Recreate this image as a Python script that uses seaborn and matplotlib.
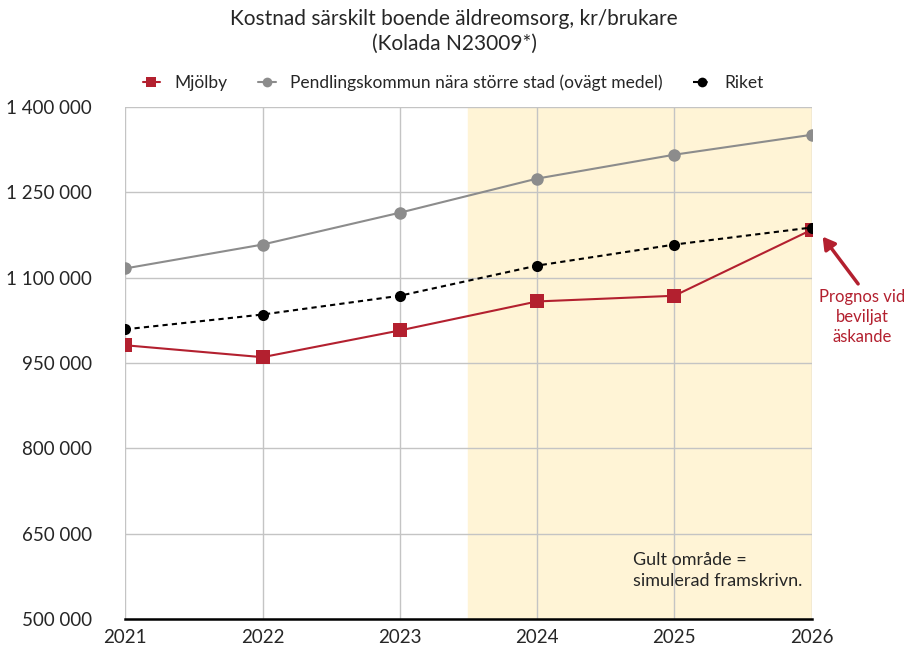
import pandas as pd
import matplotlib.pyplot as plt
import seaborn as sns
from matplotlib.ticker import FuncFormatter

years = [2021, 2022, 2023, 2024, 2025, 2026]
mjolby = [981000, 960000, 1007000, 1058000, 1068000, 1184000]
pendling = [1116000, 1158000, 1214000, 1274000, 1316000, 1351000]
riket = [1009000, 1035000, 1068000, 1121000, 1158000, 1188000]
series_names = ["Mjölby", "Pendlingskommun nära större stad (ovägt medel)", "Riket"]
y_ticks = [500000, 650000, 800000, 950000, 1100000, 1250000, 1400000]

df = pd.DataFrame({
    "year": years * 3,
    "value": mjolby + pendling + riket,
    "series": [s for s in series_names for _ in years],
})

sns.set_style("white")
plt.rcParams["font.family"] = ["Lato", "DejaVu Sans"]

red = "#b3202f"
fig = plt.figure(figsize=(9.14, 6.48), dpi=100)
ax = fig.add_axes([0.137, 0.045, 0.751, 0.79])

ax.axvspan(2023.5, 2026, color="#fff4d6", zorder=0)

sns.lineplot(
    data=df, x="year", y="value", hue="series", style="series",
    hue_order=series_names, style_order=series_names,
    palette=[red, "#8c8c8c", "black"],
    markers={"Mjölby": "s", series_names[1]: "o", "Riket": "o"},
    dashes={"Mjölby": "", series_names[1]: "", "Riket": (2.5, 2)},
    linewidth=1.5, markeredgewidth=0, ax=ax, zorder=3,
)
for line, ms in zip(ax.lines, [10, 9, 8]):
    line.set_markersize(ms)

ax.set_xlim(2021, 2026)
ax.set_ylim(500000, 1400000)
ax.set_xticks(years)
ax.set_yticks(y_ticks)
ax.yaxis.set_major_formatter(FuncFormatter(lambda v, p: f"{int(v):,}".replace(",", " ")))
ax.grid(True, color="#c4c4c4", linewidth=1)
ax.set_axisbelow(True)
for side in ["top", "right", "left"]:
    ax.spines[side].set_visible(False)
ax.spines["bottom"].set_color("black")
ax.spines["bottom"].set_linewidth(1.8)
ax.tick_params(axis="both", length=0, labelsize=13.5, pad=7)
ax.tick_params(axis="y", pad=24)
ax.set_xlabel("")
ax.set_ylabel("")

handles, labels = ax.get_legend_handles_labels()
for h in handles:
    h.set_markersize(7)
ax.legend(handles, labels, loc="lower center", bbox_to_anchor=(0.478, 1.0),
          ncol=3, frameon=False, fontsize=12.5, handlelength=1.0,
          columnspacing=1.8, handletextpad=0.8, borderaxespad=0.5)

fig.text(0.497, 0.951, "Kostnad särskilt boende äldreomsorg, kr/brukare\n(Kolada N23009*)",
         ha="center", va="center", fontsize=15, linespacing=1.3)

ax.text(2024.7, 585000, "Gult område =\nsimulerad framskrivn.", ha="left",
        va="center", fontsize=13, linespacing=1.45)

ax.annotate("Prognos vid\nbeviljat\näskande", xy=(2026.08, 1172000),
            xytext=(2026.37, 1030000), ha="center", va="center", color=red,
            fontsize=12, linespacing=1.3, annotation_clip=False,
            arrowprops=dict(arrowstyle="-|>,head_width=0.35,head_length=0.6",
                            color=red, lw=2.5, shrinkA=0, shrinkB=0,
                            relpos=(0.45, 1.1)))

fig.savefig("out.png", dpi=100)
